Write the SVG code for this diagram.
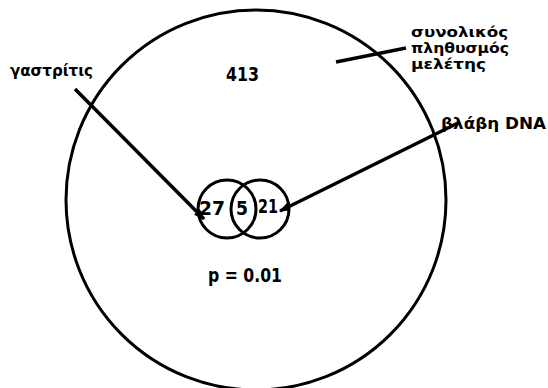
<svg xmlns="http://www.w3.org/2000/svg" width="548" height="388" viewBox="0 0 548 388">
<style>
.c{fill:none;stroke:#000;stroke-width:3}
.l{fill:none;stroke:#000;stroke-width:3.5}
.t{font-family:"DejaVu Sans","Liberation Sans",sans-serif;font-stretch:condensed;font-weight:bold;font-size:16px;fill:#000}
.s{font-family:"DejaVu Sans","Liberation Sans",sans-serif;font-stretch:condensed;font-weight:bold;font-size:14px;fill:#000}
.n{font-family:"DejaVu Sans","Liberation Sans",sans-serif;font-stretch:condensed;font-weight:bold;font-size:19px;fill:#000}
</style>
<defs>
<marker id="ah" viewBox="0 0 10 10" refX="9" refY="5" markerWidth="3.2" markerHeight="2.4" orient="auto" markerUnits="strokeWidth" preserveAspectRatio="none">
<path d="M0,0 L10,5 L0,10 z" fill="#000"/>
</marker>
</defs>
<rect width="548" height="388" fill="#fff"/>
<g id="population">
<circle class="c" cx="256" cy="200" r="190"/>
<text class="n" x="226" y="81" textLength="33" lengthAdjust="spacingAndGlyphs">413</text>
<text class="s" x="411" y="37" textLength="97" lengthAdjust="spacingAndGlyphs">συνολικός</text>
<text class="s" x="411" y="53" textLength="98" lengthAdjust="spacingAndGlyphs">πληθυσμός</text>
<text class="s" x="411" y="69" textLength="75" lengthAdjust="spacingAndGlyphs">μελέτης</text>
<text class="n" x="208" y="282" textLength="74" lengthAdjust="spacingAndGlyphs">p = 0.01</text>
</g>
<g id="gastritis">
<circle class="c" cx="227" cy="209" r="29"/>
<text class="t" x="10" y="76" textLength="83" lengthAdjust="spacingAndGlyphs">γαστρίτις</text>
<text class="n" x="199" y="215" textLength="26" lengthAdjust="spacingAndGlyphs">27</text>
</g>
<g id="dna">
<circle class="c" cx="260" cy="209" r="29"/>
<text class="t" x="441" y="129" textLength="105" lengthAdjust="spacingAndGlyphs">βλάβη DNA</text>
<text class="n" x="258" y="213" textLength="20" lengthAdjust="spacingAndGlyphs">21</text>
</g>
<g id="overlap">
<text class="n" x="236" y="215" textLength="12" lengthAdjust="spacingAndGlyphs">5</text>
</g>
<g id="connectors">
<line class="l" x1="75" y1="89" x2="204" y2="219" marker-end="url(#ah)"/>
<line class="l" x1="460" y1="122" x2="280" y2="211" marker-end="url(#ah)"/>
<line class="l" x1="336" y1="62" x2="406" y2="48"/>
</g>
</svg>
